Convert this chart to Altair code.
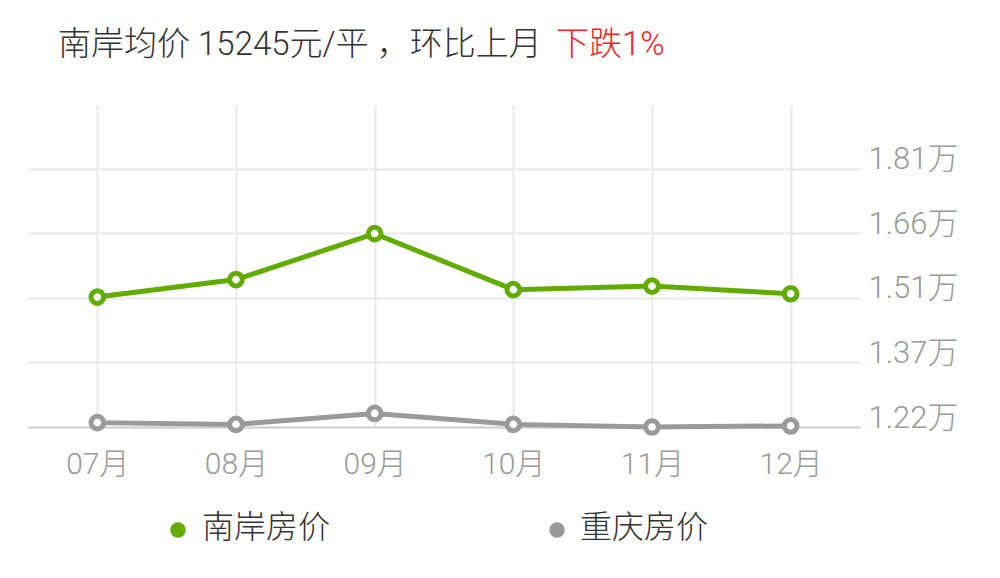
import altair as alt
import pandas as pd

months = ["07月", "08月", "09月", "10月", "11月", "12月"]
series = ["南岸房价", "重庆房价"]
nanan = [15170, 15570, 16620, 15340, 15420, 15245]
chongqing = [12300, 12260, 12510, 12260, 12200, 12225]
colors = ["#62ab00", "#9a9a9a"]
y_ticks = [12200, 13675, 15150, 16625, 18100]
y_labels = ["1.22万", "1.37万", "1.51万", "1.66万", "1.81万"]
title_main = "南岸均价 15245元/平 ，环比上月"
title_red = "下跌1%"

FONT = "Roboto, Noto Sans CJK SC"

rows = []
for m, v in zip(months, nanan):
    rows.append({"month": m, "value": v, "series": series[0]})
for m, v in zip(months, chongqing):
    rows.append({"month": m, "value": v, "series": series[1]})
df = pd.DataFrame(rows)

label_expr = " : ".join(
    f"datum.value == {v} ? '{l}'" for v, l in zip(y_ticks, y_labels)
) + " : ''"

x_enc = alt.X(
    "month:N", sort=months,
    scale=alt.Scale(type="point", padding=0.5),
    axis=alt.Axis(title=None, labelAngle=0, ticks=False, grid=True,
                  gridColor="#e8e8e8", gridWidth=2,
                  domainColor="#d0d0d0", domainWidth=2,
                  labelFontSize=30, labelColor="#9a9a9a", labelFont=FONT,
                  labelFontWeight=300, labelPadding=22, labelBaseline="top"),
)
y_enc = alt.Y(
    "value:Q",
    scale=alt.Scale(domain=[12200, 19560], nice=False, zero=False),
    axis=alt.Axis(title=None, orient="right", values=y_ticks, labelExpr=label_expr,
                  ticks=False, domain=False, grid=True,
                  gridColor="#e8e8e8", gridWidth=2,
                  labelFontSize=31, labelColor="#9a9a9a", labelFont=FONT,
                  labelFontWeight=300, labelAlign="left", labelBaseline="alphabetic",
                  labelPadding=8),
)
col_scale = alt.Scale(domain=series, range=colors)

base = alt.Chart(df)
lines = base.mark_line(strokeWidth=5).encode(
    x=x_enc, y=y_enc, color=alt.Color("series:N", scale=col_scale, legend=None)
)
points = base.mark_point(filled=True, fill="white", size=160, strokeWidth=5, opacity=1).encode(
    x=x_enc, y=y_enc, stroke=alt.Stroke("series:N", scale=col_scale, legend=None)
)

t1 = alt.Chart(pd.DataFrame({"t": [title_main]})).mark_text(
    align="left", baseline="middle", fontSize=33, font=FONT, fontWeight=300, color="#333333"
).encode(x=alt.value(30), y=alt.value(-60), text="t:N")
t2 = alt.Chart(pd.DataFrame({"t": [title_red]})).mark_text(
    align="left", baseline="middle", fontSize=33, font=FONT, fontWeight=300, color="#ff1a1a"
).encode(x=alt.value(528), y=alt.value(-60), text="t:N")

leg_layers = []
for i, (sx, tx) in enumerate([(150, 174), (529, 552)]):
    d = pd.DataFrame({"s": [series[i]]})
    leg_layers.append(alt.Chart(d).mark_point(filled=True, size=240, color=colors[i], opacity=1).encode(
        x=alt.value(sx), y=alt.value(425)))
    leg_layers.append(alt.Chart(d).mark_text(
        align="left", baseline="middle", fontSize=32, font=FONT, fontWeight=300, color="#333333"
    ).encode(x=alt.value(tx), y=alt.value(423), text="s:N"))

chart = alt.layer(lines, points, t1, t2, *leg_layers).properties(
    width=832, height=322,
    padding={"left": 20, "top": 97, "right": 132, "bottom": 143},
    autosize=alt.AutoSizeParams(type="none"),
    background="white",
).configure_view(stroke=None)

chart.save("out.html", embed_options={"renderer": "svg", "actions": False})
